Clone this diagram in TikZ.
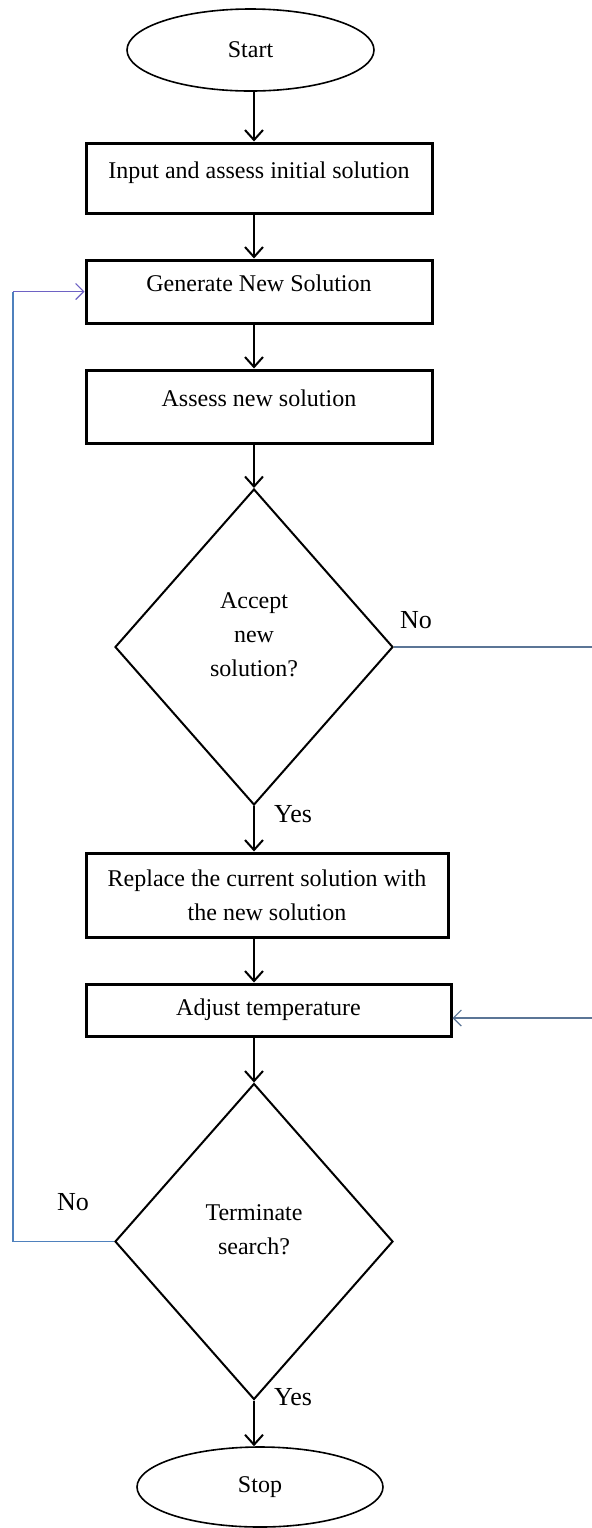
\documentclass[tikz,border=0pt]{standalone}
\usepackage{fontspec}
\setmainfont{Liberation Serif}
\usetikzlibrary{arrows.meta, shapes.geometric, positioning}
\definecolor{LoopBlue}{HTML}{4F81BD}
\definecolor{LoopViolet}{HTML}{6E62C4}
\definecolor{LoopGrey}{HTML}{5B7596}

\begin{document}
\begin{tikzpicture}[x=0.5pt, y=-0.5pt, on grid, font=\fontsize{12}{17}\selectfont,
    terminal/.style={ellipse, draw, line width=0.8pt, inner sep=0pt, minimum width=123.5pt, minimum height=41pt},
    procbox/.style={rectangle, draw, line width=1.5pt, align=center, inner sep=2pt, minimum width=173pt},
    uptext/.style={text height=9pt, text depth=9pt},
    decision/.style={diamond, draw, line width=1pt, inner sep=0pt, minimum width=139pt, minimum height=158pt},
    branch/.style={font=\fontsize{13}{15}\selectfont, inner sep=0pt},
    flow/.style={-{Straight Barb[length=5pt, width=9pt]}, line width=1pt},
    loop/.style={-{Straight Barb[length=4pt, width=8pt]}, line width=0.6pt}]

        \useasboundingbox (0,0) rectangle (591,1528);

        \node[terminal] (start) at (250.5,50) {Start};

        \node[procbox, uptext, minimum height=35pt, below=64pt of start, xshift=4.25pt] (input) {Input and assess initial solution};

        \node[procbox, uptext, minimum height=31.5pt, below=56.75pt of input] (gen) {Generate New Solution};

        \node[procbox, uptext, minimum height=36.5pt, below=57.5pt of gen] (assess) {Assess new solution};

        \node[decision, below=120.25pt of assess, xshift=-2.5pt,
            label={[align=center, yshift=6pt]center:Accept\\new\\solution?}] (accept) {};

        \node[procbox, minimum width=181pt, minimum height=42pt, below=124pt of accept, xshift=6.5pt] (replace) {Replace the current solution with\\the new solution};

        \node[procbox, minimum width=182.5pt, minimum height=26pt, below=57.5pt of replace, xshift=0.75pt] (adjust) {Adjust temperature};

        \node[decision, below=115.75pt of adjust, xshift=-7.25pt,
            label={[align=center, yshift=6pt]center:Terminate\\search?}] (term) {};

        \node[terminal, minimum width=123pt, minimum height=40pt, below=122.75pt of term, xshift=3pt] (stop) {Stop};

        % branch labels
        \node[branch] (noaccept) at ([shift={(22,-27)}]accept.east) {No};
        \node[branch] (yesaccept) at ([shift={(39,8)}]accept.south) {Yes};
        \node[branch] (noterm) at ([shift={(-41,-39)}]term.west) {No};
        \node[branch] (yesterm) at ([shift={(39,-3)}]term.south) {Yes};

        \path[flow]
        (start.south -| accept.north) edge (input.north -| accept.north)
        (input.south -| accept.north) edge (gen.north -| accept.north)
        (gen.south -| accept.north) edge (assess.north -| accept.north)
        (assess.south -| accept.north) edge (accept.north)
        (accept.south) edge (replace.north -| accept.south)
        (replace.south -| accept.north) edge (adjust.north -| accept.north)
        (adjust.south -| term.north) edge (term.north)
        (term.south) edge (stop.north -| term.south);

        % feedback loops
        \coordinate (leftrail) at (13,0);
        \coordinate (rightrail) at (600,0);
        \draw[loop, LoopGrey] (accept.east) -- (accept.east -| rightrail) |- ([yshift=-4pt]adjust.east);
        \draw[LoopBlue, line width=0.6pt] (term.west) -| (gen.west -| leftrail) coordinate (backcorner);
        \draw[loop, LoopViolet] (backcorner) -- (gen.west);

    \end{tikzpicture}
\end{document}
